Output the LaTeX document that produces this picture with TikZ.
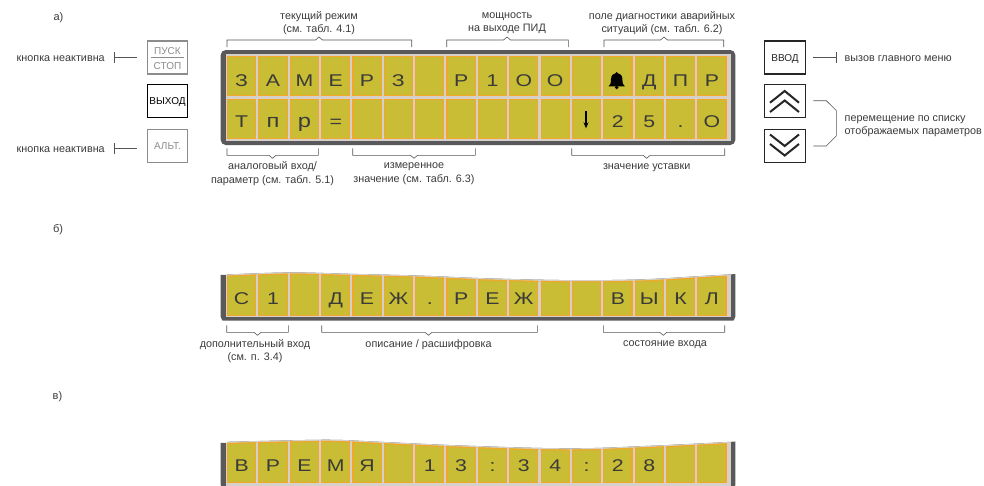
\documentclass[tikz,border=0pt]{standalone}
\usepackage{fontspec}
\setmainfont{Liberation Sans}
\newfontfamily\lcdfont[FakeStretch=1.25]{Liberation Sans}
\usetikzlibrary{arrows.meta}
\definecolor{framedark}{HTML}{59595B}
\definecolor{framelight}{HTML}{D5D0C8}
\definecolor{cellfill}{HTML}{C8BD34}
\definecolor{celledge}{HTML}{F2A62A}
\definecolor{txt}{HTML}{3A3A3A}
\definecolor{linecol}{HTML}{555555}
\definecolor{btngray}{HTML}{8A8C8E}
\tikzset{
  lbl/.style={inner sep=0pt,outer sep=0pt,align=center,text=txt,font=\fontsize{10.8}{13.2}\selectfont},
  lblleft/.style={lbl,anchor=west,align=left},
  part/.style={lbl,font=\fontsize{11}{13}\selectfont},
  lcdcell/.style={draw=celledge,fill=cellfill,line width=1.1pt,minimum width=28.2pt,inner sep=0pt,outer sep=0pt},
  lcdtext/.style={anchor=base,inner sep=0pt,outer sep=0pt,text=txt,font=\lcdfont\fontsize{17}{17}\selectfont},
  conn/.style={draw=linecol,line width=.6pt},
  btn/.style={draw=#1,fill=white,line width=1.2pt,minimum width=40.5pt,minimum height=33pt,inner sep=0pt,outer sep=0pt},
  btntext/.style={inner sep=0pt,outer sep=0pt,text=#1,font=\fontsize{10}{11}\selectfont},
  chev/.style={draw=black!85,line width=2pt,miter limit=10},
}
% cells of one row: prefix, y centre, height
\newcommand\lcdcells[3]{%
  \foreach \i in {0,...,15}{\node[lcdcell,minimum height=#3pt] (#1-\i) at ({241.65+31.35*\i},#2) {};}}
% letters of one row: prefix, baseline, index/char list
\newcommand\lcdletters[3]{%
  \foreach \i/\ch in {#3}{\node[lcdtext] (#1-t\i) at ({241.65+31.35*\i},#2) {\ch};}}
% bracket: name, x1, x2, peak x, y bar, y tip, y peak
\newcommand\brk[7]{%
  \coordinate (#1-a) at (#2,#6); \coordinate (#1-b) at (#3,#6);
  \coordinate (#1-c) at (#2,#5); \coordinate (#1-d) at (#3,#5);
  \coordinate (#1-e) at ({#4-3.5},#5); \coordinate (#1-f) at ({#4+3.5},#5);
  \coordinate (#1-p) at (#4,#7);
  \draw[conn] (#1-a) -- (#1-c) -- (#1-e) -- (#1-p) -- (#1-f) -- (#1-d) -- (#1-b);}
% wavy-topped region
\newcommand\wavearea[5]{#1 (215,#3) -- (227,#3) -- plot[smooth,tension=.6] coordinates {#2} -- (745,#4) -- (745,#5) -- (215,#5) -- cycle;}
\newcommand\lcdpanel[8]{%
  % #1 name, #2 wave, #3 yL, #4 yR, #5 top of rects, #6 dark bottom, #7 light bottom, #8 cell bottom
  \begin{scope}
    \wavearea{\clip[yshift=1.2pt]}{#2}{#3}{#4}{#6}
    \fill[framedark,rounded corners=5pt] (220.7,#5) rectangle (735.3,#6);
    \fill[framelight] (226.2,#5) rectangle (731.2,#7);
  \end{scope}
  \begin{scope}
    \wavearea{\clip}{#2}{#3}{#4}{#6}
    \pgfmathsetmacro\cy{(#5+#8)/2}\pgfmathsetmacro\chh{#8-#5-1.1}
    \lcdcells{#1}{\cy}{\chh}
    \foreach \i in {0,...,15}{
      \begin{scope}
        \clip ({227+31.35*\i},#5) rectangle ({256.3+31.35*\i},#8);
        \draw[celledge,line width=2.2pt] plot[smooth,tension=.6] coordinates {#2};
      \end{scope}}
  \end{scope}}
\begin{document}
\begin{tikzpicture}[x=1pt,y=-1pt]
\useasboundingbox (0,0) rectangle (984,485);
\clip (0,0) rectangle (984,485);

% part labels
\node[part] (pa) at (58.5,17.5) {а)};
\node[part] (pb) at (58,229.5) {б)};
\node[part] (pc) at (57.5,397) {в)};

% panel a
\fill[framedark,rounded corners=5pt] (220.7,50) rectangle (735.3,145) ;
\fill[framelight] (226.2,54) rectangle (731.2,140.7);
\lcdcells{r}{75.85}{39.2}
\lcdcells{s}{118.85}{39.2}
\lcdletters{r}{86}{0/З,1/А,2/М,3/Е,4/Р,5/З,7/Р,8/1,9/О,10/О,13/Д,14/П,15/Р}
\lcdletters{s}{127.3}{0/Т,1/{\fontsize{19}{19}\selectfont п},2/{\fontsize{19}{19}\selectfont р},3/=,12/2,13/5,14/.,15/О}
\fill[black] (608.6,86.4) .. controls (610.6,85) and (610.9,83) .. (611,79)
  .. controls (611.2,75) and (613.5,73.6) .. (615.6,73.2)
  .. controls (615.4,71.4) and (618,71.4) .. (617.8,73.2)
  .. controls (619.9,73.6) and (622.2,75) .. (622.4,79)
  .. controls (622.5,83) and (622.8,85) .. (624.8,86.4) -- cycle;
\fill[black] (616.7,87.4) circle (1.9pt);
\draw[black,line width=1.1pt,-{Stealth[length=6pt,width=5pt]}] (586,111) -- (586,128.3);

% panel b
\lcdpanel{b}{(227,275.7) (290,273.6) (350,275) (420,276.8) (490,279.6) (570,281.3) (640,280.6) (700,277.3) (731,275.5)}{276}{275}{262}{321.7}{317.3}{315.7}
\lcdletters{bt}{304.3}{0/С,1/1,3/Д,4/Е,5/Ж,6/.,7/Р,8/Е,9/Ж,12/В,13/Ы,14/К,15/Л}

% panel c
\lcdpanel{c}{(227,443) (290,441.5) (335,441) (380,443) (470,447) (570,449.5) (650,447) (731,443)}{444}{442}{432}{490}{490}{482.7}
\lcdletters{ct}{471.7}{0/В,1/Р,2/Е,3/М,4/Я,6/1,7/3,8/:,9/3,10/4,11/:,12/2,13/8}

% brackets
\brk{b1}{227}{411.7}{319}{40}{47}{37}
\brk{b2}{446.7}{568.3}{507}{40}{47}{37}
\brk{b3}{604}{723.7}{664}{40}{47}{37}
\brk{b4}{227}{318.3}{272.5}{155.3}{148.3}{158.3}
\brk{b5}{352.7}{475.3}{414}{155.3}{148.3}{158.3}
\brk{b6}{571.7}{724.7}{646.7}{155.3}{148.3}{158.3}
\brk{b7}{226.7}{288.3}{257.5}{332.3}{325.3}{335.3}
\brk{b8}{321.7}{537.3}{428.5}{332.3}{325.3}{335.3}
\brk{b9}{603.3}{724.7}{663.3}{332.3}{325.3}{335.3}

% bracket labels
\node[lbl] (t1) at (319,22.8) {текущий режим\\(см. табл. 4.1)};
\node[lbl] (t2) at (507,22.8) {мощность\\на выходе ПИД};
\node[lbl] (t3) at (662,22.8) {поле диагностики аварийных\\ситуаций (см. табл. 6.2)};
\node[lbl] (t4) at (272.5,173.7) {аналоговый вход/\\параметр (см. табл. 5.1)};
\node[lbl] (t5) at (414,173.7) {измеренное\\значение (см. табл. 6.3)};
\node[lbl] (t6) at (646.7,167.5) {значение уставки};
\node[lbl] (t7) at (255,351.3) {дополнительный вход\\(см. п. 3.4)};
\node[lbl] (t8) at (428.5,344.7) {описание / расшифровка};
\node[lbl] (t9) at (665,344.7) {состояние входа};

% left buttons
\node[btn=btngray] (pusk) at (167.5,57.5) {};
\node[btntext=btngray] (puskt) at (167.5,51.5) {ПУСК};
\node[btntext=btngray] (stopt) at (167.5,66) {СТОП};
\coordinate (pl) at (151,57.7); \coordinate (pr) at (183.7,57.7);
\draw[btngray,line width=1pt] (pl) -- (pr);
\node[btn=black] (vyh) at (167.5,101) {};
\node[btntext=black] (vyht) at (167.5,102.5) {ВЫХОД};
\node[btn=btngray] (alt) at (167.5,145.7) {};
\node[btntext=btngray] (altt) at (167.5,146.4) {АЛЬТ.};

% left callouts
\node[lblleft] (k1) at (16.7,58.2) {кнопка неактивна};
\node[lblleft] (k2) at (16.7,149.2) {кнопка неактивна};
\coordinate (k1a) at (114.3,57.7); \coordinate (k1b) at (137.3,57.7);
\coordinate (k1u) at (114.3,52.3); \coordinate (k1d) at (114.3,63.3);
\draw[conn] (k1a) -- (k1b); \draw[conn] (k1u) -- (k1d);
\coordinate (k2a) at (114.3,148.3); \coordinate (k2b) at (137.3,148.3);
\coordinate (k2u) at (114.3,143); \coordinate (k2d) at (114.3,154);
\draw[conn] (k2a) -- (k2b); \draw[conn] (k2u) -- (k2d);

% right buttons
\node[btn=black!85] (vvod) at (785,57.5) {};
\node[btntext=black!85] (vvodt) at (785,59) {ВВОД};
\node[btn=black!85] (up) at (785,101) {};
\node[btn=black!85] (down) at (785,145.7) {};
\draw[chev] (770,102.7) -- (784.7,91) -- (799,102.7);
\draw[chev] (770,112) -- (784.7,100.5) -- (799,112);
\draw[chev] (770,134.5) -- (784.7,146) -- (799,134.5);
\draw[chev] (770,144) -- (784.7,155.5) -- (799,144);

% right callouts
\node[lblleft] (m1) at (844.7,58.2) {вызов главного меню};
\coordinate (m1a) at (813.3,57.7); \coordinate (m1b) at (836.3,57.7);
\coordinate (m1u) at (836.3,52.3); \coordinate (m1d) at (836.3,63.3);
\draw[conn] (m1a) -- (m1b); \draw[conn] (m1u) -- (m1d);
\node[lblleft] (m2) at (844.7,126) {перемещение по списку\\отображаемых параметров};
\coordinate (u0) at (813.3,100.7); \coordinate (u1) at (826.3,100.7); \coordinate (u2) at (836.3,110.5);
\coordinate (d0) at (813.3,146); \coordinate (d1) at (826.3,146); \coordinate (d2) at (836.3,136);
\draw[conn] (u0) -- (u1) -- (u2) -- (d2) -- (d1) -- (d0);
\end{tikzpicture}
\end{document}
